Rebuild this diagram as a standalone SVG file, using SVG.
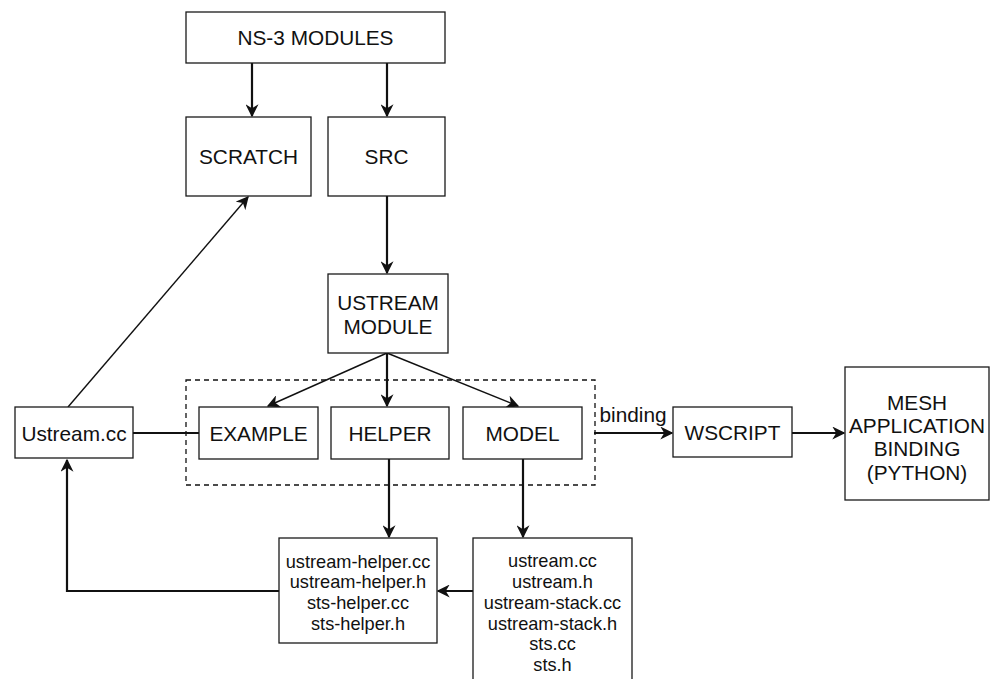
<svg xmlns="http://www.w3.org/2000/svg" width="993" height="679" viewBox="0 0 993 679">
  <defs>
    <style>
      .box { fill: #ffffff; stroke: #1a1a1a; stroke-width: 1.3; }
      .lbl { font-family: "Liberation Sans", Arial, sans-serif; font-size: 20.8px; fill: #111111; text-anchor: middle; }
      .file { font-family: "Liberation Sans", Arial, sans-serif; font-size: 18.2px; fill: #111111; text-anchor: middle; }
      .thick { fill: none; stroke: #111111; stroke-width: 2.2; }
      .thin { fill: none; stroke: #111111; stroke-width: 1.4; }
      .group { fill: none; stroke: #111111; stroke-width: 1.3; stroke-dasharray: 5 4; }
    </style>
    <marker id="arrowBig" viewBox="0 0 10 10" refX="9" refY="5" markerWidth="13" markerHeight="13" markerUnits="userSpaceOnUse" orient="auto">
      <path d="M0,0 L10,5 L0,10 L3,5 Z" fill="#111111"/>
    </marker>
  </defs>
  <rect width="993" height="679" fill="#ffffff"/>

  <!-- dashed grouping around the module sub-folders -->
  <rect id="module-group" class="group" x="186" y="380" width="409" height="105"/>

  <g id="connectors">
    <line class="thick" x1="252" y1="63" x2="252" y2="116" marker-end="url(#arrowBig)"/>
    <line class="thick" x1="387" y1="63" x2="387" y2="116" marker-end="url(#arrowBig)"/>
    <line class="thick" x1="387" y1="196" x2="387" y2="273" marker-end="url(#arrowBig)"/>
    <line class="thin" x1="387" y1="353" x2="268" y2="406" marker-end="url(#arrowBig)"/>
    <line class="thick" x1="387" y1="353" x2="387" y2="406" marker-end="url(#arrowBig)"/>
    <line class="thin" x1="387" y1="353" x2="518" y2="406" marker-end="url(#arrowBig)"/>
    <line class="thin" x1="68" y1="407" x2="248" y2="197" marker-end="url(#arrowBig)"/>
    <line class="thick" x1="133" y1="433" x2="199" y2="433"/>
    <line class="thick" x1="389" y1="459" x2="389" y2="537" marker-end="url(#arrowBig)"/>
    <line class="thick" x1="523" y1="459" x2="523" y2="537" marker-end="url(#arrowBig)"/>
    <line class="thick" x1="473" y1="591" x2="438" y2="591" marker-end="url(#arrowBig)"/>
    <polyline class="thick" points="279,591 67,591 67,460" marker-end="url(#arrowBig)"/>
    <line class="thick" x1="594" y1="433" x2="672" y2="433" marker-end="url(#arrowBig)"/>
    <text class="lbl" x="633" y="422">binding</text>
    <line class="thick" x1="792" y1="433" x2="844" y2="433" marker-end="url(#arrowBig)"/>
  </g>

  <g id="ns3-modules">
    <rect class="box" x="186" y="12" width="259" height="51"/>
    <text class="lbl" x="315.5" y="45">NS-3 MODULES</text>
  </g>
  <g id="scratch">
    <rect class="box" x="186" y="117" width="125" height="79"/>
    <text class="lbl" x="248.5" y="164">SCRATCH</text>
  </g>
  <g id="src">
    <rect class="box" x="328" y="117" width="117" height="79"/>
    <text class="lbl" x="386.5" y="164">SRC</text>
  </g>
  <g id="ustream-module">
    <rect class="box" x="328" y="274" width="120" height="79"/>
    <text class="lbl" x="388" y="310">USTREAM</text>
    <text class="lbl" x="388" y="334">MODULE</text>
  </g>
  <g id="example">
    <rect class="box" x="199" y="407" width="119" height="52"/>
    <text class="lbl" x="258.5" y="441">EXAMPLE</text>
  </g>
  <g id="helper">
    <rect class="box" x="331" y="407" width="118" height="52"/>
    <text class="lbl" x="390" y="441">HELPER</text>
  </g>
  <g id="model">
    <rect class="box" x="463" y="407" width="119" height="52"/>
    <text class="lbl" x="522.5" y="441">MODEL</text>
  </g>
  <g id="ustream-cc">
    <rect class="box" x="15" y="407" width="118" height="51"/>
    <text class="lbl" x="74" y="441">Ustream.cc</text>
  </g>
  <g id="wscript">
    <rect class="box" x="673" y="407" width="119" height="50"/>
    <text class="lbl" x="732.5" y="440">WSCRIPT</text>
  </g>
  <g id="mesh-binding">
    <rect class="box" x="845" y="367" width="144" height="133"/>
    <text class="lbl" x="917" y="410">MESH</text>
    <text class="lbl" x="917" y="433">APPLICATION</text>
    <text class="lbl" x="917" y="456">BINDING</text>
    <text class="lbl" x="917" y="480">(PYTHON)</text>
  </g>
  <g id="helper-files">
    <rect class="box" x="279" y="538" width="158" height="105"/>
    <text class="file" x="358" y="568">ustream-helper.cc</text>
    <text class="file" x="358" y="588">ustream-helper.h</text>
    <text class="file" x="358" y="609">sts-helper.cc</text>
    <text class="file" x="358" y="630">sts-helper.h</text>
  </g>
  <g id="model-files">
    <rect class="box" x="473" y="538" width="159" height="160"/>
    <text class="file" x="552.5" y="567">ustream.cc</text>
    <text class="file" x="552.5" y="588">ustream.h</text>
    <text class="file" x="552.5" y="609">ustream-stack.cc</text>
    <text class="file" x="552.5" y="630">ustream-stack.h</text>
    <text class="file" x="552.5" y="650">sts.cc</text>
    <text class="file" x="552.5" y="671">sts.h</text>
  </g>
</svg>
